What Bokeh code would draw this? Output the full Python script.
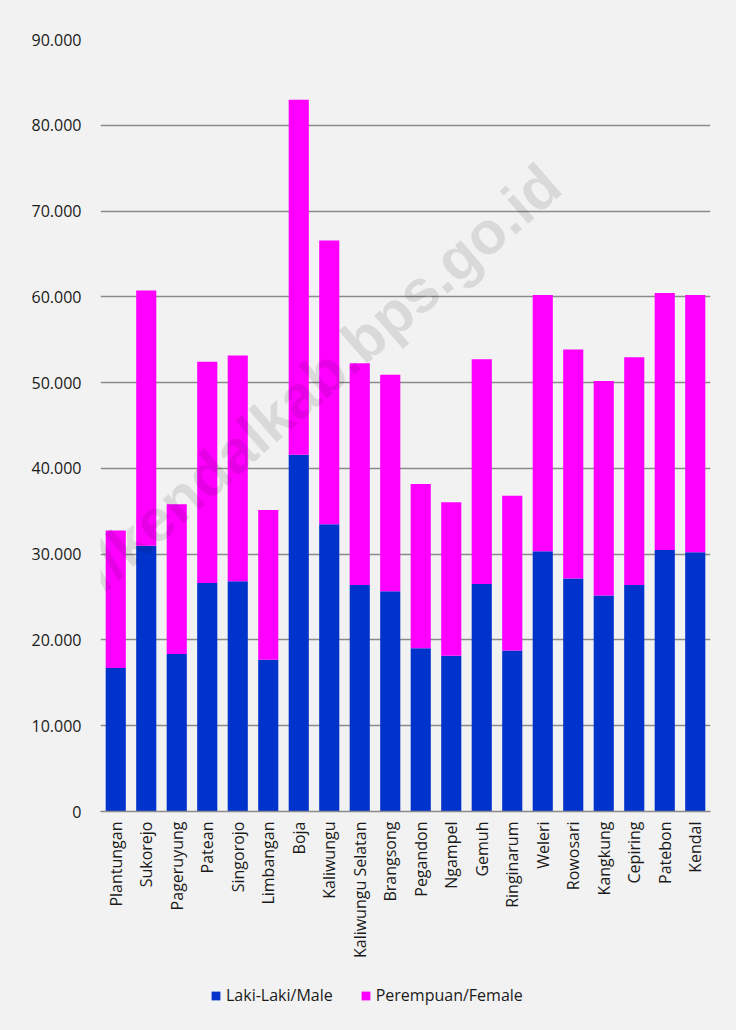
import math
from bokeh.plotting import figure
from bokeh.layouts import column
from bokeh.models import (ColumnDataSource, FactorRange, Range1d, Legend, LegendItem,
                          FixedTicker, CustomJSTickFormatter, Label)
from bokeh.embed import file_html
from bokeh.resources import INLINE

categories = ["Plantungan", "Sukorejo", "Pageruyung", "Patean", "Singorojo", "Limbangan",
              "Boja", "Kaliwungu", "Kaliwungu Selatan", "Brangsong", "Pegandon", "Ngampel",
              "Gemuh", "Ringinarum", "Weleri", "Rowosari", "Kangkung", "Cepiring",
              "Patebon", "Kendal"]
male = [16740, 30990, 18360, 26630, 26830, 17680, 41600, 33490, 26420, 25690,
        19030, 18150, 26520, 18770, 30350, 27170, 25170, 26400, 30500, 30220]
female = [16020, 29750, 17470, 25790, 26320, 17470, 41380, 33070, 25840, 25220,
          19140, 17890, 26210, 18050, 29870, 26700, 25030, 26550, 29950, 30000]
y_ticks = [0, 10000, 20000, 30000, 40000, 50000, 60000, 70000, 80000, 90000]
series_labels = ["Laki-Laki/Male", "Perempuan/Female"]
colors = ["#0033cc", "#ff00ff"]

FONT = "Open Sans"
TXT = "#1a1a1a"
BG = "#f2f2f2"

source = ColumnDataSource(dict(cat=categories, male=male, female=female))

p = figure(x_range=FactorRange(*categories, range_padding=0),
           y_range=Range1d(0, 90000),
           frame_width=610, frame_height=772,
           min_border_left=100, min_border_right=26, min_border_top=39, min_border_bottom=0,
           output_backend="svg", toolbar_location=None)

p.background_fill_color = BG
p.border_fill_color = BG
p.outline_line_color = None

renderers = p.vbar_stack(["male", "female"], x="cat", width=0.66, color=colors,
                         line_color=None, source=source)

# axes
p.yaxis.ticker = FixedTicker(ticks=y_ticks)
p.yaxis.formatter = CustomJSTickFormatter(code="""
    return Math.round(tick).toString().replace(/\\B(?=(\\d{3})+(?!\\d))/g, '.');
""")
p.yaxis.axis_line_color = None
p.yaxis.major_tick_line_color = None
p.yaxis.minor_tick_line_color = None
p.yaxis.major_tick_out = 0
p.yaxis.major_tick_in = 0
p.yaxis.major_label_standoff = 19
p.yaxis.major_label_text_font = FONT
p.yaxis.major_label_text_font_size = "16px"
p.yaxis.major_label_text_color = TXT

p.xaxis.axis_line_color = "#8a8a8a"
p.xaxis.axis_line_width = 1.3
p.xaxis.major_tick_line_color = None
p.xaxis.major_tick_out = 0
p.xaxis.major_tick_in = 0
p.xaxis.major_label_orientation = math.pi / 2
p.xaxis.major_label_standoff = 10
p.xaxis.major_label_text_font = FONT
p.xaxis.major_label_text_font_size = "16px"
p.xaxis.major_label_text_color = TXT

p.xgrid.grid_line_color = None
p.ygrid.grid_line_color = "#8a8a8a"
p.ygrid.grid_line_width = 1.3

# watermark
wm = Label(x=5.19, y=44400, text="https://kendalkab.bps.go.id",
           angle=41, angle_units="deg", text_align="center", text_baseline="middle",
           text_font="Liberation Sans", text_font_style="bold", text_font_size="60px",
           text_color="#000000", text_alpha=0.1)
p.add_layout(wm)

# legend strip (separate small figure holding the legend)
p2 = figure(width=736, height=70, x_range=Range1d(0, 1), y_range=Range1d(0, 1),
            x_axis_type=None, y_axis_type=None,
            min_border_left=0, min_border_right=0, min_border_top=0, min_border_bottom=0,
            output_backend="svg", toolbar_location=None)
p2.background_fill_color = BG
p2.border_fill_color = BG
p2.outline_line_color = None
p2.xgrid.grid_line_color = None
p2.ygrid.grid_line_color = None
# zero-height proxy bars: invisible, only give the legend its swatches
leg_renderers = [p2.vbar(x=[0], bottom=[0], top=[0], width=0, color=c, line_color=None)
                 for c in colors]

legend = Legend(items=[LegendItem(label=series_labels[i], renderers=[leg_renderers[i]])
                       for i in range(2)],
                orientation="horizontal", location=(110, 25),
                glyph_width=11, glyph_height=11, label_standoff=5, spacing=27,
                padding=5, margin=0,
                label_text_font=FONT, label_text_font_size="16px", label_text_color=TXT,
                background_fill_alpha=0, border_line_color=None)
p2.add_layout(legend, "center")

layout = column(p, p2, spacing=0, styles={"background-color": BG})
open("out.html", "w").write(file_html(layout, INLINE))
